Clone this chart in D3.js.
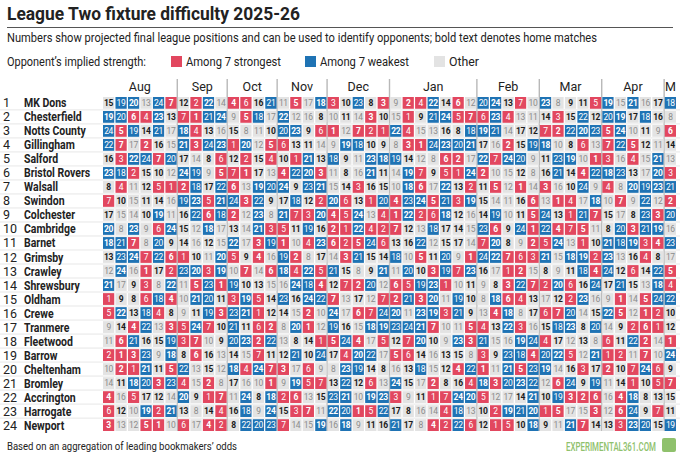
<!DOCTYPE html>
<html>
<head>
<meta charset="utf-8">
<script src="https://cdn.jsdelivr.net/npm/d3@7"></script>
<style>
  body { margin: 0; background: #fff; }
  svg { display: block; font-family: Roboto, "Liberation Sans", sans-serif; }
</style>
</head>
<body>
<script>
var width = 680;
var height = 457;

var teams = ["MK Dons", "Chesterfield", "Notts County", "Gillingham", "Salford", "Bristol Rovers",
    "Walsall", "Swindon", "Colchester", "Cambridge", "Barnet", "Grimsby", "Crawley", "Shrewsbury",
    "Oldham", "Crewe", "Tranmere", "Fleetwood", "Barrow", "Cheltenham", "Bromley", "Accrington",
    "Harrogate", "Newport"];

var monthLabels = ["Aug", "Sep", "Oct", "Nov", "Dec", "Jan", "Feb", "Mar", "Apr", "M"];
var monthGames = [6, 4, 4, 4, 5, 7, 5, 5, 5, 1];

// projected position of each team's opponent, fixture by fixture (row = team)
var opponents = [
    [15,19,20,13,24,7, 12,2,22,14, 4,6,16,21, 11,5,17,18, 3,10,23,8,3, 9,2,4,22,14,6,12, 20,24,13,7,10, 23,8,9,11,5, 19,15,21,16,17, 18],
    [19,20,6,4,23,13, 7,1,21,24, 9,5,18,17, 22,12,16,8, 10,11,14,3,10, 15,1,9,21,24,5,7, 6,23,4,13,11, 14,3,15,22,12, 20,19,17,18,16, 8],
    [24,5,19,14,21,17, 18,4,13,16, 15,8,11,10, 20,23,9,6, 1,12,7,2,1, 22,4,15,13,16,8,18, 19,21,14,17,12, 7,2,22,20,23, 5,24,10,11,9, 6],
    [22,7,17,2,16,15, 21,3,24,23, 1,20,12,5, 6,13,11,14, 9,19,18,10,9, 8,3,1,24,23,20,21, 17,16,2,15,19, 18,10,8,6,13, 7,22,5,12,11, 14],
    [16,3,22,24,7,20, 17,14,8,6, 12,2,15,4, 10,1,21,13, 18,9,11,23,18, 19,14,12,8,6,2,17, 22,7,24,20,9, 11,23,19,10,1, 3,16,4,15,21, 13],
    [23,18,2,15,10,12, 24,19,9,5, 7,1,17,13, 4,22,20,3, 11,8,16,21,11, 14,19,7,9,5,1,24, 2,10,15,12,8, 16,21,14,4,22, 18,23,13,17,20, 3],
    [8,4,11,12,5,1, 2,18,17,22, 6,13,19,20, 24,9,23,21, 15,14,3,16,15, 10,18,6,17,22,13,2, 11,5,12,1,14, 3,16,10,24,9, 4,8,20,19,23, 21],
    [7,10,15,11,14,16, 19,23,5,21, 24,3,22,9, 17,18,12,2, 20,6,13,1,20, 4,23,24,5,21,3,19, 15,14,11,16,6, 13,1,4,17,18, 10,7,9,22,12, 2],
    [17,15,14,10,19,11, 16,22,6,18, 2,12,23,8, 21,7,3,20, 4,5,24,13,4, 1,22,2,6,18,12,16, 14,19,10,11,5, 24,13,1,21,7, 15,17,8,23,3, 20],
    [20,8,23,9,6,24, 15,12,18,17, 13,14,21,3, 5,11,19,16, 2,1,22,4,2, 7,12,13,18,17,14,15, 23,6,9,24,1, 22,4,7,5,11, 8,20,3,21,19, 16],
    [18,21,7,8,20,9, 14,16,12,15, 22,17,3,19, 1,10,4,23, 6,2,5,24,6, 13,16,22,12,15,17,14, 7,20,8,9,2, 5,24,13,1,10, 21,18,19,3,4, 23],
    [13,23,24,7,22,6, 1,10,11,20, 5,9,4,16, 19,2,8,17, 14,3,21,15,14, 18,10,5,11,20,9,1, 24,22,7,6,3, 21,15,18,19,2, 23,13,16,4,8, 17],
    [12,24,16,1,17,2, 23,20,3,19, 10,7,14,6, 18,4,22,5, 21,15,8,9,21, 11,20,10,3,19,7,23, 16,17,1,2,15, 8,9,11,18,4, 24,12,6,14,22, 5],
    [21,17,9,3,8,22, 11,5,23,1, 19,10,13,15, 16,24,18,4, 12,7,2,20,12, 6,5,19,23,1,10,11, 9,8,3,22,7, 2,20,6,16,24, 17,21,15,13,18, 4],
    [1,9,8,6,18,4, 10,21,20,11, 3,19,5,14, 23,16,24,22, 7,13,17,12,7, 2,21,3,20,11,19,10, 8,18,6,4,13, 17,12,2,23,16, 9,1,14,5,24, 22],
    [5,22,13,18,4,8, 9,11,19,3, 23,21,1,12, 14,15,2,10, 24,17,6,7,24, 20,11,23,19,3,21,9, 13,4,18,8,17, 6,7,20,14,15, 22,5,12,1,2, 10],
    [9,14,4,22,13,3, 5,24,7,10, 21,11,6,2, 8,20,1,12, 19,16,15,18,19, 23,24,21,7,10,11,5, 4,13,22,3,16, 15,18,23,8,20, 14,9,2,6,1, 12],
    [11,6,21,16,15,19, 3,7,10,9, 20,23,2,22, 13,8,14,1, 5,24,4,17,5, 12,7,20,10,9,23,3, 21,15,16,19,24, 4,17,12,13,8, 6,11,22,2,14, 1],
    [2,1,3,23,9,18, 8,6,16,13, 14,15,7,11, 12,21,10,24, 17,4,20,22,17, 5,6,14,16,13,15,8, 3,9,23,18,4, 20,22,5,12,21, 1,2,11,7,10, 24],
    [10,2,1,21,11,5, 22,13,15,12, 18,4,24,7, 3,17,6,9, 8,23,19,14,8, 16,13,18,15,12,4,22, 1,11,21,5,23, 19,14,16,3,17, 2,10,7,24,6, 9],
    [14,11,18,20,3,23, 4,15,2,8, 17,16,10,1, 9,19,5,7, 13,22,12,6,13, 24,15,17,2,8,16,4, 18,3,20,23,22, 12,6,24,9,19, 11,14,1,10,5, 7],
    [4,16,5,17,12,14, 20,9,1,7, 11,24,8,18, 2,6,13,15, 23,21,10,19,23, 3,9,11,1,7,24,20, 5,12,17,14,21, 10,19,3,2,6, 16,4,18,8,13, 15],
    [6,12,10,19,2,21, 13,8,14,4, 16,18,9,24, 15,3,7,11, 22,20,1,5,22, 17,8,16,14,4,18,13, 10,2,19,21,20, 1,5,17,15,3, 12,6,24,9,7, 11],
    [3,13,12,5,1,10, 6,17,4,2, 8,22,20,23, 7,14,15,19, 16,18,9,11,16, 21,17,8,4,2,22,6, 12,1,5,10,18, 9,11,21,7,14, 13,3,23,20,15, 19]
];

// positions of the teams playing at home in each fixture (bold text)
var homeSides = [
    [1,2,5,6,7,9,10,11,12,14,22,24], [3,4,8,13,15,16,17,18,19,20,21,23],
    [1,2,5,10,11,12,14,15,16,17,19,21], [3,4,6,7,8,9,13,18,20,22,23,24],
    [2,4,5,6,8,9,13,18,20,21,22,24], [1,2,10,11,12,14,15,16,17,19,20,23],
    [1,3,4,5,6,7,9,10,11,19,22,23], [2,4,8,12,13,14,15,16,17,18,19,22],
    [1,3,5,7,9,10,11,19,20,21,23,24], [2,4,6,8,12,13,14,15,16,17,18,22],
    [1,3,5,7,9,10,11,19,20,21,23,24], [2,4,6,8,12,13,14,15,16,17,18,22],
    [1,5,6,7,9,10,11,12,14,18,20,22], [3,4,8,13,15,16,17,19,20,21,22,23],
    [2,5,6,7,8,9,11,13,16,19,20,23], [1,3,4,7,10,12,14,15,17,18,21,22],
    [3,4,5,6,8,13,15,16,17,18,19,23], [1,2,5,6,7,9,10,11,12,14,22,24],
    [3,8,9,10,11,14,15,16,18,19,21,23], [1,2,4,5,6,7,12,13,17,20,22,24],
    [3,8,9,10,11,14,15,16,18,19,21,23], [1,2,4,5,6,7,12,13,17,20,22,24],
    [1,2,4,5,6,7,12,13,17,20,22,24],
    [3,8,9,10,11,14,15,16,18,19,21,23], [1,4,5,6,7,9,10,11,20,21,23,24],
    [2,4,7,8,12,13,15,16,17,18,19,22], [1,6,8,12,13,14,15,16,17,18,21,24],
    [1,2,3,4,5,7,9,10,11,19,20,21], [1,3,5,7,9,10,11,18,19,20,21,22],
    [2,4,6,8,12,13,14,15,16,17,18,22],
    [3,4,5,6,7,8,9,13,20,21,23,24], [1,2,7,10,11,12,14,15,16,17,19,21],
    [1,4,5,10,11,12,14,15,16,17,20,23], [3,4,6,7,8,9,13,18,20,21,22,24],
    [3,8,9,10,11,14,15,16,19,22,23,24],
    [1,2,4,5,6,7,12,13,17,20,22,24], [3,8,9,10,11,14,15,16,18,19,21,23],
    [1,2,4,5,6,7,12,13,17,20,22,24], [1,3,6,10,12,14,15,17,18,21,22,24],
    [2,5,8,9,11,13,16,19,20,22,23,24],
    [1,3,4,6,9,10,11,12,14,16,20,24], [2,3,8,13,15,16,17,18,20,21,22,23],
    [1,2,4,6,7,9,10,11,12,14,22,24], [3,4,13,15,16,17,18,19,20,21,22,23],
    [1,2,5,6,7,9,10,11,12,14,22,24],
    [3,4,8,13,16,17,18,19,20,21,22,23]
];

var legendLabels = ["Among 7 strongest", "Among 7 weakest", "Other"];

var red = "#e2475f", blue = "#1f73b4", grey = "#e3e3e3";
var nGames = opponents[0].length;

//Squeeze a text to a given width, Roboto is wider than the original font
function fitWidth(sel, w) {
    sel.each(function () {
        if (this.getComputedTextLength() > w) {
            d3.select(this).attr("textLength", w).attr("lengthAdjust", "spacingAndGlyphs");
        }
    });
}

function condense(sel, f) {
    sel.each(function () {
        var n = this.getComputedTextLength();
        d3.select(this).attr("textLength", n * f).attr("lengthAdjust", "spacingAndGlyphs");
    });
}

var svg = d3.select("body").append("svg")
    .attr("width", width)
    .attr("height", height);

svg.append("rect").attr("width", width).attr("height", height).attr("fill", "#fff");

var x = d3.scaleBand().domain(d3.range(nGames)).range([103, 676]).paddingInner(0.1);
var y = d3.scaleBand().domain(d3.range(teams.length)).range([97, 431]).paddingInner(0.16);
var colour = d3.scaleThreshold().domain([8, 18]).range([red, grey, blue]);

//Headings
svg.append("text").attr("x", 7).attr("y", 20)
    .attr("font-size", 19).attr("font-weight", 700).attr("fill", "#222")
    .text("League Two fixture difficulty 2025-26")
    .call(fitWidth, 293);

svg.append("line").attr("x1", 7).attr("x2", 673).attr("y1", 27.5).attr("y2", 27.5)
    .attr("stroke", "#555").attr("stroke-width", 1);

svg.append("text").attr("x", 7).attr("y", 42)
    .attr("font-size", 12.5).attr("fill", "#222")
    .text("Numbers show projected final league positions and can be used to identify opponents; bold text denotes home matches")
    .call(fitWidth, 590);

//Legend
svg.append("text").attr("x", 7).attr("y", 66)
    .attr("font-size", 12.5).attr("fill", "#222")
    .text("Opponent\u2019s implied strength:")
    .call(fitWidth, 139);

var legendX = [171, 305, 434];
var legendW = [95, 89, 30];
var legendColours = [red, blue, grey];
var lg = svg.selectAll(".legend").data(legendLabels).enter().append("g")
    .attr("class", "legend")
    .attr("transform", function (d, i) { return "translate(" + legendX[i] + ",0)"; });
lg.append("rect").attr("y", 56).attr("width", 11).attr("height", 11)
    .attr("fill", function (d, i) { return legendColours[i]; });
lg.append("text").attr("x", 15).attr("y", 66)
    .attr("font-size", 12.5).attr("fill", "#222")
    .text(function (d) { return d; })
    .each(function (d, i) { d3.select(this).call(fitWidth, legendW[i]); });

//Months and separators
var monthStart = d3.cumsum([0].concat(monthGames)).slice(0, monthGames.length);
var half = x.step() * x.paddingInner() / 2;

svg.selectAll(".month").data(monthLabels).enter().append("text")
    .attr("class", "month")
    .attr("x", function (d, i) {
        var a = x(monthStart[i]), b = x(monthStart[i] + monthGames[i] - 1) + x.bandwidth();
        return (a + b) / 2;
    })
    .attr("y", 91)
    .attr("text-anchor", "middle")
    .attr("font-size", 12.5).attr("fill", "#222")
    .text(function (d) { return d; });

svg.selectAll(".sep").data(monthStart.slice(1)).enter().append("line")
    .attr("class", "sep")
    .attr("x1", function (d) { return x(d) - half; })
    .attr("x2", function (d) { return x(d) - half; })
    .attr("y1", 79).attr("y2", 431)
    .attr("stroke", "#b8b8b8").attr("stroke-width", 1.4);

//Thin lines between the rows
svg.selectAll(".rowline").data(d3.range(1, teams.length)).enter().append("line")
    .attr("class", "rowline")
    .attr("x1", 0).attr("x2", width)
    .attr("y1", function (d) { return y(d) - y.step() * y.paddingInner() / 2; })
    .attr("y2", function (d) { return y(d) - y.step() * y.paddingInner() / 2; })
    .attr("stroke", "#dcdcdc").attr("stroke-width", 0.7);

//Team rows
var rows = svg.selectAll(".team").data(teams).enter().append("g")
    .attr("class", "team")
    .attr("transform", function (d, i) { return "translate(0," + y(i) + ")"; });

var mid = y.bandwidth() / 2;

rows.append("text").attr("x", 3).attr("y", mid).attr("dy", "0.36em")
    .attr("font-size", 12.5).attr("fill", "#222")
    .text(function (d, i) { return i + 1; });

rows.append("text").attr("x", 24).attr("y", mid).attr("dy", "0.36em")
    .attr("font-size", 12.5).attr("font-weight", 700).attr("fill", "#222")
    .text(function (d) { return d; })
    .call(condense, 0.84);

var cells = rows.selectAll(".cell")
    .data(function (d, i) {
        return opponents[i].map(function (o, j) {
            return { team: i + 1, game: j, opp: o, home: homeSides[j].indexOf(i + 1) >= 0 };
        });
    })
    .enter().append("g")
    .attr("class", "cell")
    .attr("transform", function (d) { return "translate(" + x(d.game) + ",0)"; });

cells.append("rect")
    .attr("width", x.bandwidth())
    .attr("height", y.bandwidth())
    .attr("fill", function (d) { return colour(d.opp); });

cells.append("text")
    .attr("x", x.bandwidth() / 2)
    .attr("y", mid).attr("dy", "0.36em")
    .attr("text-anchor", "middle")
    .attr("font-size", 8.5)
    .attr("letter-spacing", -0.3)
    .attr("font-weight", function (d) { return d.home ? 700 : 400; })
    .attr("fill", function (d) {
        if (d.opp < 8 || d.opp > 17) return "#fff";
        return d.home ? "#1a1a1a" : "#8c8c8c";
    })
    .text(function (d) { return d.opp; });

//Footer
svg.append("text").attr("x", 7).attr("y", 450)
    .attr("font-size", 11.5).attr("fill", "#222")
    .text("Based on an aggregation of leading bookmakers\u2019 odds")
    .call(fitWidth, 230);

svg.append("text").attr("x", 656).attr("y", 451)
    .attr("text-anchor", "end")
    .attr("font-size", 13).attr("font-weight", 500).attr("fill", "#8fc16c")
    .text("EXPERIMENTAL361.COM")
    .call(fitWidth, 90);

svg.append("rect").attr("x", 662).attr("y", 438).attr("width", 14).attr("height", 14)
    .attr("rx", 2).attr("fill", "#8fc16c");
</script>
</body>
</html>
